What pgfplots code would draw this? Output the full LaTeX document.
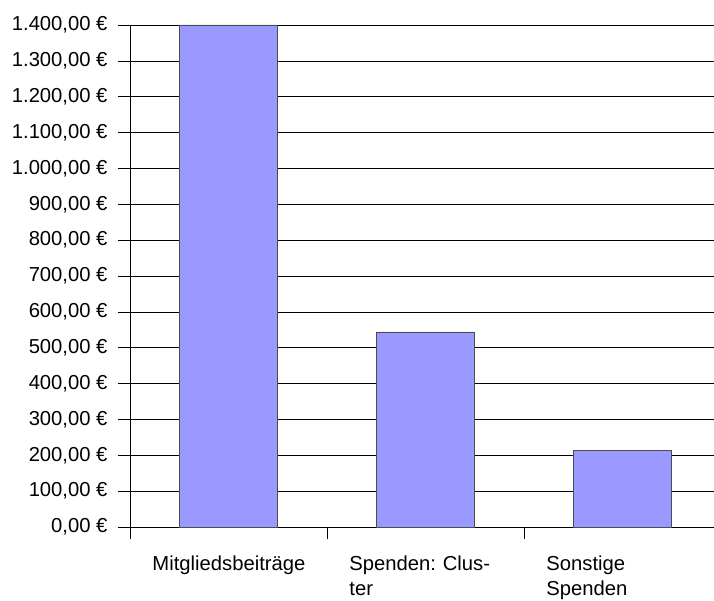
\documentclass[border=0pt]{standalone}
\usepackage{fontspec}
\setmainfont{Liberation Sans}
\usepackage{pgfplots}
\pgfplotsset{compat=1.18}
\definecolor{barblue}{HTML}{9999FF}
\frenchspacing
\begin{document}
\begin{tikzpicture}
\useasboundingbox (-130bp,-74bp) rectangle (584bp,527bp);
\begin{axis}[
  at={(0,0)}, anchor=south west,
  scale only axis, width=584bp, height=502bp,
  xmin=-0.5, xmax=2.4645, ymin=0, ymax=1400,
  clip=false,
  axis lines*=left,
  axis line style={black, line width=0.8bp},
  ytick={0,100,...,1400},
  ymajorgrids, grid style={black, line width=0.6bp},
  tick align=outside,
  major tick length=12bp,
  tick style={black, line width=0.6bp},
  xtick={-0.5,0.5,1.5},
  xticklabels={},
  extra x ticks={0,1,2},
  extra x tick labels={Mitgliedsbeiträge, Spenden: Clus-\\ter, Sonstige\\Spenden},
  extra x tick style={major tick length=0pt, tick style={draw=none}},
  /pgf/number format/assume math mode=true,
  xticklabel style={text width=152bp, align=left, font=\fontsize{20.3}{25}\selectfont, yshift=-25bp},
  yticklabel style={font=\fontsize{20.3}{24}\selectfont, xshift=-7bp},
  yticklabel={\pgfmathprintnumber[fixed, fixed zerofill, precision=2, use comma, 1000 sep={.}]{\tick}~€},
]
\addplot[ybar, bar width=0.5, fill=barblue, draw=black!70, line width=0.6bp] coordinates {(0,1400) (1,544) (2,213)};
\end{axis}
\end{tikzpicture}
\end{document}
